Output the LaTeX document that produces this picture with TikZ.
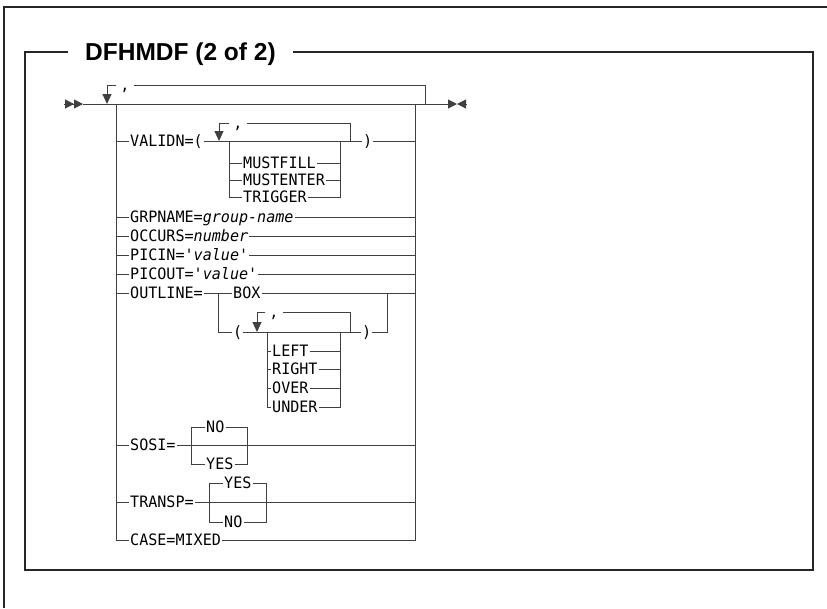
\documentclass[tikz,border=0pt]{standalone}
\usepackage{fontspec}
\setmainfont{Liberation Sans}
\setmonofont{DejaVu Sans Mono}
\newfontfamily\kwfamily[FakeStretch=0.96]{DejaVu Sans Mono}
\usepackage{tikz}
\usetikzlibrary{arrows.meta}
\newcommand\kwfont{\fontsize{15.7}{18}\selectfont\kwfamily}
\tikzset{
  rail/.style={line width=1pt,draw=black!75},
  frame/.style={line width=1.4pt,draw=black!85},
  rep/.style={-{Triangle[width=9pt,length=10pt]}},
  kw/.style={font=\kwfont,anchor=west,inner sep=1pt,text height=11pt,text depth=0pt},
  sepc/.style={font=\kwfont,inner xsep=4pt,inner ysep=1pt,text height=11pt,text depth=0pt},
  heading/.style={font=\fontsize{24.5}{28}\selectfont\bfseries,anchor=west,inner xsep=17pt,inner ysep=1pt,text height=17.5pt,text depth=0pt}
}

\begin{document}
\begin{tikzpicture}[x=1pt,y=-1pt]
  \useasboundingbox (0,0) rectangle (827,608);

  % page edge and figure frame
  \draw[frame] (4,608) -- (4,7) -- (827,7);
  \node[heading] (title) at (68,52) {DFHMDF (2 of 2)};
  \draw[frame] (title.west) -- (25,52) -- (25,570) -- (813,570) -- (813,52) -- (title.east);

  % main line
  \coordinate (start) at (83,104);
  \coordinate (stop) at (448,104);
  \draw[rail,-{Triangle[width=9pt,length=9pt] Triangle[width=9pt,length=9pt]}] (64,104) -- (start);
  \draw[rail] (start) -- (stop);
  \draw[rail,-{Triangle[width=9pt,length=9pt]}] (stop) -- (457,104);
  \draw[rail,-{Triangle[width=9pt,length=9pt]}] (466.5,104) -- (457,104);

  % outer repeat
  \node[sepc] (c0) at (125,85) {,};
  \draw[rail] (c0.east) -- (425,85) -- (425,104);
  \draw[rail,rep] (c0.west) -- (107,85) -- (107,104);

  % choices
  \node[kw] (validn) at (129,141) {VALIDN=(};
  \node[kw] (vclose) at (362,141) {)};
  \node[kw] (grpname) at (129,217) {GRPNAME=\textit{group-name}};
  \node[kw] (occurs) at (129,236) {OCCURS=\textit{number}};
  \node[kw] (picin) at (129,255) {PICIN='\textit{value}'};
  \node[kw] (picout) at (129,274) {PICOUT='\textit{value}'};
  \node[kw] (outline) at (129,293) {OUTLINE=};
  \node[kw] (sosi) at (129,445) {SOSI=};
  \node[kw] (transp) at (129,502) {TRANSP=};
  \node[kw] (case) at (129,540) {CASE=MIXED};

  \draw[rail] (116,104) -- (116,540) -- (case.west);
  \draw[rail] (415,104) -- (415,540) -- (case.east);
  \draw[rail] (116,141) -- (validn.west);
  \draw[rail] (validn.east) -- (vclose.west);
  \draw[rail] (vclose.east) -- (415,141);
  \draw[rail] (116,217) -- (grpname.west);
  \draw[rail] (grpname.east) -- (415,217);
  \draw[rail] (116,236) -- (occurs.west);
  \draw[rail] (occurs.east) -- (415,236);
  \draw[rail] (116,255) -- (picin.west);
  \draw[rail] (picin.east) -- (415,255);
  \draw[rail] (116,274) -- (picout.west);
  \draw[rail] (picout.east) -- (415,274);
  \draw[rail] (116,293) -- (outline.west);
  \draw[rail] (116,445) -- (sosi.west);
  \draw[rail] (sosi.east) -- (415,445);
  \draw[rail] (116,502) -- (transp.west);
  \draw[rail] (transp.east) -- (415,502);

  % VALIDN values
  \node[sepc] (c1) at (238,123) {,};
  \draw[rail] (c1.east) -- (350,123) -- (350,141);
  \draw[rail,rep] (c1.west) -- (219,123) -- (219,141);
  \node[kw] (mustfill) at (242,163) {MUSTFILL};
  \node[kw] (mustenter) at (242,180) {MUSTENTER};
  \node[kw] (trigger) at (242,197) {TRIGGER};
  \draw[rail] (229,141) -- (229,197) -- (trigger.west);
  \draw[rail] (229,163) -- (mustfill.west);
  \draw[rail] (229,180) -- (mustenter.west);
  \draw[rail] (340,141) -- (340,197) -- (trigger.east);
  \draw[rail] (mustfill.east) -- (340,163);
  \draw[rail] (mustenter.east) -- (340,180);

  % OUTLINE values
  \node[kw] (box) at (232,293) {BOX};
  \node[kw] (oopen) at (232,332) {(};
  \node[kw] (oclose) at (361,332) {)};
  \draw[rail] (outline.east) -- (box.west);
  \draw[rail] (box.east) -- (415,293);
  \draw[rail] (218,293) -- (218,332) -- (oopen.west);
  \draw[rail] (oopen.east) -- (oclose.west);
  \draw[rail] (oclose.east) -- (387,332) -- (387,293);
  \node[sepc] (c2) at (274,312) {,};
  \draw[rail] (c2.east) -- (350,312) -- (350,332);
  \draw[rail,rep] (c2.west) -- (257,312) -- (257,332);
  \node[kw] (left) at (271,351) {LEFT};
  \node[kw] (right) at (271,369) {RIGHT};
  \node[kw] (over) at (271,388) {OVER};
  \node[kw] (under) at (271,407) {UNDER};
  \draw[rail] (267,332) -- (267,407) -- (under.west);
  \draw[rail] (267,351) -- (left.west);
  \draw[rail] (267,369) -- (right.west);
  \draw[rail] (267,388) -- (over.west);
  \draw[rail] (340,332) -- (340,407) -- (under.east);
  \draw[rail] (left.east) -- (340,351);
  \draw[rail] (right.east) -- (340,369);
  \draw[rail] (over.east) -- (340,388);

  % SOSI values
  \node[kw] (sosino) at (205,427) {NO};
  \node[kw] (sosiyes) at (205,464) {YES};
  \draw[rail] (sosino.west) -- (191,427) -- (191,464) -- (sosiyes.west);
  \draw[rail] (sosino.east) -- (247,427) -- (247,464) -- (sosiyes.east);

  % TRANSP values
  \node[kw] (tyes) at (223,483) {YES};
  \node[kw] (tno) at (223,522) {NO};
  \draw[rail] (tyes.west) -- (209,483) -- (209,522) -- (tno.west);
  \draw[rail] (tyes.east) -- (266,483) -- (266,522) -- (tno.east);
\end{tikzpicture}
\end{document}
